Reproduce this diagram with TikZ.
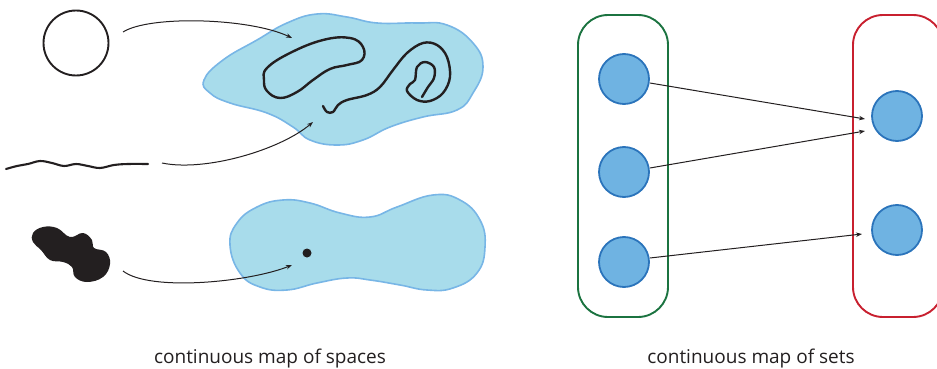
\documentclass[tikz,border=0pt]{standalone}
\usepackage{fontspec}
\setmainfont{Open Sans}
\usetikzlibrary{arrows.meta}
\definecolor{blobfill}{HTML}{A8DCEB}
\definecolor{blobline}{HTML}{78B6E6}
\definecolor{setfill}{HTML}{6FB3E2}
\definecolor{setline}{HTML}{2B74BB}
\definecolor{grn}{HTML}{1B7340}
\definecolor{rd}{HTML}{C8202F}
\definecolor{ink}{HTML}{231F20}
\tikzset{
  blob/.style={fill=blobfill, draw=blobline, line width=1.6pt},
  curve/.style={draw=ink, line width=2.4pt, line cap=round},
  maparrow/.style={draw=ink, line width=1pt, -{Stealth[length=6pt,width=4.4pt]}},
  elem/.style={circle, fill=setfill, draw=setline, line width=1.8pt, minimum size=50pt, inner sep=0pt},
  setbox/.style={rounded corners=30pt, line width=1.9pt},
  caption/.style={text=ink, font=\fontsize{19}{22}\selectfont, anchor=base}
}
\begin{document}
\begin{tikzpicture}[x=1pt,y=-1pt]
\useasboundingbox (0,0) rectangle (937,369);
\clip (0,0) rectangle (937,369);
% ---------- left: spaces ----------
\node[circle, draw=ink, line width=1.9pt, minimum size=65pt, inner sep=0pt] (circ) at (76,43) {};
% wavy line
\draw[curve, line width=2.1pt] plot[smooth, tension=0.6] coordinates {(6,169) (17,166) (28,164) (40,161) (52,163) (64,166) (76,164) (88,166) (100,168) (114,165) (128,164) (148,164)};
% black blob
\fill[ink] plot[smooth cycle, tension=0.7] coordinates {(33,233) (43,227) (57,228) (70,237) (83,233) (92,240) (94,248) (106,252) (110,264) (103,277) (87,282) (75,277) (72,267) (63,262) (50,260) (41,250) (33,242)};
% blob 1
\path[blob] plot[smooth cycle, tension=0.75] coordinates {(204,80) (223,60) (257,40) (287,23) (317,14) (347,17) (377,23) (417,23) (447,25) (473,43) (483,67) (473,93) (457,110) (423,117) (390,127) (363,140) (337,145) (310,140) (293,127) (267,113) (230,103) (210,93)};
% closed loop
\draw[curve] plot[smooth cycle, tension=0.7] coordinates {(267,68) (290,53) (323,40) (350,38) (363,47) (362,60) (347,65) (330,69) (313,80) (297,92) (280,98) (267,91) (264,80)};
% open curve
\draw[curve] plot[smooth, tension=0.6] coordinates {(323,106) (327,112) (333,112) (338,105) (347,100) (367,95) (380,87) (393,70) (407,53) (423,43) (437,45) (447,57) (450,77) (443,93) (430,101) (417,100) (407,91) (410,84) (415,80) (417,67) (425,62) (434,67) (434,78) (428,87) (422,97)};
% blob 2
\path[blob] plot[smooth cycle, tension=0.75] coordinates {(230,245) (237,223) (257,207) (283,200) (310,203) (340,213) (370,217) (397,207) (433,195) (460,200) (480,220) (485,247) (477,273) (453,288) (427,290) (400,285) (370,280) (347,278) (317,283) (287,290) (260,287) (240,273)};
\node[circle, fill=ink, minimum size=9pt, inner sep=0pt] (pt) at (307,253) {};
% arrows
\coordinate (a1s) at (123,32); \coordinate (a1e) at (292,38);
\coordinate (a2s) at (162,163); \coordinate (a2e) at (313,122);
\coordinate (a3s) at (123,271); \coordinate (a3e) at (292,265);
\draw[maparrow] (a1s) .. controls (150,15) and (250,18) .. (a1e);
\draw[maparrow] (a2s) .. controls (205,172) and (280,150) .. (a2e);
\draw[maparrow] (a3s) .. controls (150,292) and (250,282) .. (a3e);
% ---------- right: sets ----------
\draw[setbox, draw=grn] (578,15) rectangle (668,317);
\draw[setbox, draw=rd] (853,15) rectangle (943,317);
\node[elem] (l1) at (624,79) {};
\node[elem] (l2) at (624,172) {};
\node[elem] (l3) at (624,262) {};
\node[elem] (r1) at (897,116) {};
\node[elem] (r2) at (897,230) {};
\coordinate (e1) at (865,119);
\coordinate (e2) at (865,131);
\coordinate (e3) at (862,234);
\draw[maparrow] (l1.east) ++(0,4) coordinate (s1) -- (e1);
\draw[maparrow] (l2.east) ++(0,-4) coordinate (s2) -- (e2);
\draw[maparrow] (l3.east) ++(0,-4) coordinate (s3) -- (e3);
% ---------- captions ----------
\node[caption] (cap1) at (270,363) {continuous map of spaces};
\node[caption] (cap2) at (751,363) {continuous map of sets};
\end{tikzpicture}
\end{document}
